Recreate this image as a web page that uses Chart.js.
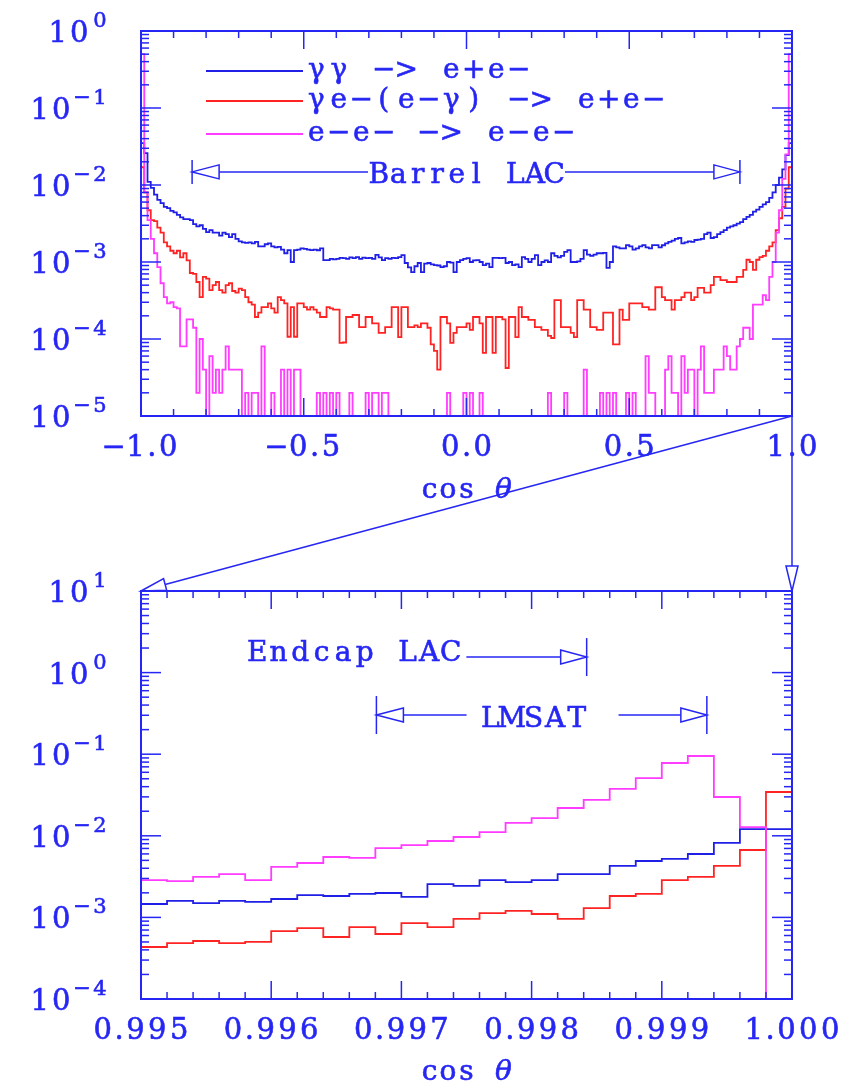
<!DOCTYPE html>
<html>
<head>
<meta charset="utf-8">
<title>cos θ distributions</title>
<script src="https://cdn.jsdelivr.net/npm/chart.js"></script>
<style>
  html, body { margin: 0; background: #fff; }
  #wrap { position: relative; width: 849px; height: 1084px; }
  #wrap canvas { position: absolute; left: 0; top: 0; }
</style>
</head>
<body>
<div id="wrap">
  <canvas id="barrel" width="849" height="1084"></canvas>
  <canvas id="endcap" width="849" height="1084"></canvas>
</div>
<script>
// process names, same order in both panels
const labels = ['γγ −> e+e−', 'γe−(e−γ) −> e+e−', 'e−e− −> e−e−']
const colors = ['#1f1fe6', '#ff2424', '#ff3cff']

// upper panel: 200 bins of 0.01 in cos theta, one value per bin (0 = empty)
const barrelRange = [-1, 1]
const barrelGG = [
  3.5e-2, 2.6e-2, 1.1e-2, 9.2e-3, 7.5e-3, 6.4e-3, 5.8e-3, 5.2e-3, 5.0e-3, 4.6e-3,
  4.4e-3, 4.1e-3, 3.8e-3, 3.6e-3, 3.6e-3, 3.5e-3, 3.1e-3, 2.9e-3, 3.0e-3, 2.7e-3,
  2.45e-3, 2.6e-3, 2.4e-3, 2.4e-3, 2.2e-3, 2.4e-3, 2.3e-3, 2.1e-3, 2.3e-3, 2.0e-3,
  1.85e-3, 1.8e-3, 1.77e-3, 1.8e-3, 1.75e-3, 1.82e-3, 1.6e-3, 1.6e-3, 1.7e-3, 1.75e-3,
  1.6e-3, 1.55e-3, 1.57e-3, 1.45e-3, 1.3e-3, 1.43e-3, 1.0e-3, 1.43e-3, 1.45e-3, 1.5e-3,
  1.48e-3, 1.45e-3, 1.43e-3, 1.45e-3, 1.42e-3, 1.5e-3, 1.06e-3, 1.06e-3, 1.1e-3, 1.08e-3,
  1.1e-3, 1.13e-3, 1.12e-3, 1.1e-3, 1.15e-3, 1.12e-3, 1.16e-3, 1.1e-3, 1.14e-3, 1.12e-3,
  1.13e-3, 1.1e-3, 1.24e-3, 1.15e-3, 1.06e-3, 1.12e-3, 1.1e-3, 1.13e-3, 1.12e-3, 1.16e-3,
  1.23e-3, 9.7e-4, 8.5e-4, 7.4e-4, 8.8e-4, 9.7e-4, 7.4e-4, 9.5e-4, 9.7e-4, 9.3e-4,
  9.1e-4, 9.0e-4, 8.6e-4, 8.8e-4, 1.0e-3, 9.8e-4, 7.4e-4, 1.0e-3, 1.06e-3, 1.1e-3,
  1.12e-3, 1.0e-3, 1.05e-3, 1.06e-3, 1.0e-3, 9.1e-4, 9.5e-4, 8.6e-4, 1.13e-3, 1.13e-3,
  1.12e-3, 1.13e-3, 9.7e-4, 1.0e-3, 9.1e-4, 9.3e-4, 8.6e-4, 1.16e-3, 1.1e-3, 1.0e-3,
  1.1e-3, 1.23e-3, 9.1e-4, 1.0e-3, 1.05e-3, 1.0e-3, 1.3e-3, 1.2e-3, 1.15e-3, 1.2e-3,
  1.35e-3, 1.43e-3, 1.0e-3, 1.0e-3, 1.02e-3, 1.1e-3, 1.43e-3, 1.25e-3, 1.2e-3, 1.25e-3,
  1.3e-3, 1.3e-3, 1.31e-3, 8.4e-4, 1.0e-3, 1.6e-3, 1.55e-3, 1.5e-3, 1.5e-3, 1.66e-3,
  1.6e-3, 1.45e-3, 1.5e-3, 1.6e-3, 1.66e-3, 1.55e-3, 1.5e-3, 1.66e-3, 1.66e-3, 1.55e-3,
  1.65e-3, 1.75e-3, 1.82e-3, 1.9e-3, 2.0e-3, 2.05e-3, 1.75e-3, 1.8e-3, 1.85e-3, 1.82e-3,
  1.93e-3, 1.95e-3, 2.0e-3, 2.3e-3, 2.4e-3, 2.05e-3, 2.1e-3, 2.3e-3, 2.45e-3, 2.6e-3,
  2.8e-3, 2.9e-3, 3.0e-3, 3.15e-3, 3.3e-3, 3.6e-3, 3.85e-3, 4.1e-3, 4.5e-3, 4.8e-3,
  5.2e-3, 5.6e-3, 6.0e-3, 6.8e-3, 8.0e-3, 1.0e-2, 1.25e-2, 1.6e-2, 2.45e-2, 3.5e-2
]
const barrelGE = [
  1.7e-2, 8e-3, 4.7e-3, 3.5e-3, 3.4e-3, 2.8e-3, 2.4e-3, 1.8e-3, 1.6e-3, 1.4e-3,
  1.3e-3, 1.4e-3, 1.15e-3, 1.3e-3, 1.05e-3, 7.2e-4, 7e-4, 5.5e-4, 3.5e-4, 6.4e-4,
  6.1e-4, 4.3e-4, 5e-4, 5.5e-4, 4.3e-4, 4e-4, 5e-4, 5.3e-4, 4.2e-4, 4e-4,
  4.5e-4, 4.3e-4, 3.5e-4, 3e-4, 2.8e-4, 1.93e-4, 2.2e-4, 2.6e-4, 2.6e-4, 2.9e-4,
  2.5e-4, 2.2e-4, 3.5e-4, 3.2e-4, 2.9e-4, 1.07e-4, 2.6e-4, 1.07e-4, 2.9e-4, 2.9e-4,
  2.6e-4, 2.4e-4, 2.6e-4, 2.4e-4, 2.2e-4, 1.93e-4, 1.93e-4, 2.6e-4, 2.5e-4, 2.4e-4,
  2.4e-4, 8.9e-5, 9e-5, 1.93e-4, 1.93e-4, 2.05e-4, 2.05e-4, 1.43e-4, 1.43e-4, 1.93e-4,
  1.93e-4, 1.6e-4, 1.6e-4, 1.2e-4, 1.2e-4, 1.43e-4, 1.43e-4, 2.6e-4, 2.6e-4, 1.06e-4,
  2.6e-4, 2.6e-4, 1.43e-4, 1.43e-4, 1.5e-4, 1.43e-4, 1.6e-4, 1.6e-4, 1.4e-4, 8.5e-5,
  7e-5, 4e-5, 1.93e-4, 1.93e-4, 1.6e-4, 8.9e-5, 1.2e-4, 1.43e-4, 1.43e-4, 1.43e-4,
  1.6e-4, 1.31e-4, 1.93e-4, 1.93e-4, 1.6e-4, 6.6e-5, 1.93e-4, 1.93e-4, 6.6e-5, 1.93e-4,
  1.93e-4, 1.8e-4, 4.2e-5, 1.93e-4, 1.93e-4, 1.06e-4, 2.6e-4, 1.93e-4, 1.93e-4, 1.77e-4,
  1.77e-4, 1.43e-4, 1.43e-4, 1.31e-4, 1.31e-4, 1.1e-4, 1.03e-4, 3.2e-4, 3.2e-4, 1.43e-4,
  1.43e-4, 1.43e-4, 1.2e-4, 1.06e-4, 3.2e-4, 3.2e-4, 2.4e-4, 2.4e-4, 1.43e-4, 1.43e-4,
  1.31e-4, 1.31e-4, 2.2e-4, 2.2e-4, 2.2e-4, 8.5e-5, 8.5e-5, 2.4e-4, 1.77e-4, 1.77e-4,
  2.9e-4, 2.9e-4, 2.9e-4, 2.9e-4, 2.6e-4, 2.6e-4, 2.4e-4, 2.4e-4, 4.7e-4, 4.7e-4,
  3.5e-4, 3.2e-4, 3.2e-4, 2.4e-4, 3.2e-4, 3.2e-4, 3.5e-4, 4e-4, 4e-4, 3.2e-4,
  3.5e-4, 4.6e-4, 4.6e-4, 4e-4, 4e-4, 5e-4, 6.4e-4, 6.4e-4, 5.8e-4, 5.8e-4,
  5.5e-4, 5.5e-4, 5.5e-4, 6.4e-4, 6.4e-4, 7.9e-4, 1.07e-3, 1.0e-3, 7.9e-4, 1.07e-3,
  1.16e-3, 1.2e-3, 1.4e-3, 1.6e-3, 1.8e-3, 2.6e-3, 3.7e-3, 5.2e-3, 9e-3, 1.7e-2
]
const barrelEE = [
  0.5, 8e-3, 3.5e-3, 2e-3, 1.3e-3, 8.6e-4, 5.3e-4, 3.5e-4, 2.9e-4, 3e-4,
  2.6e-4, 2.5e-4, 8e-5, 8e-5, 1.8e-4, 1.8e-4, 1.4e-4, 2e-5, 1e-4, 4e-5,
  0, 6e-5, 2e-5, 4e-5, 2e-5, 4e-5, 8e-5, 4e-5, 4e-5, 4e-5,
  4e-5, 0, 2e-5, 0, 2e-5, 2e-5, 0, 8e-5, 0, 0,
  2e-5, 0, 0, 4e-5, 0, 4e-5, 0, 4e-5, 4e-5, 0,
  0, 0, 0, 0, 2e-5, 0, 2e-5, 0, 2e-5, 0,
  2e-5, 0, 0, 0, 2e-5, 0, 0, 0, 0, 2e-5,
  0, 2e-5, 2e-5, 0, 2e-5, 2e-5, 0, 0, 0, 0,
  0, 0, 0, 0, 0, 0, 0, 0, 0, 0,
  0, 0, 0, 0, 2e-5, 0, 0, 0, 0, 2e-5,
  0, 2e-5, 0, 0, 2e-5, 0, 0, 0, 0, 0,
  0, 0, 0, 0, 0, 0, 0, 0, 0, 0,
  0, 0, 0, 0, 0, 2e-5, 0, 0, 0, 0,
  2e-5, 0, 0, 0, 0, 0, 4e-5, 0, 0, 0,
  0, 2e-5, 0, 2e-5, 0, 2e-5, 0, 0, 0, 2e-5,
  0, 2e-5, 0, 0, 0, 6e-5, 2e-5, 2e-5, 0, 0,
  0, 4e-5, 6e-5, 2e-5, 2e-5, 0, 6e-5, 2e-5, 4e-5, 4e-5,
  0, 4e-5, 8e-5, 2e-5, 2e-5, 2e-5, 4e-5, 4e-5, 4e-5, 8e-5,
  6e-5, 4e-5, 4e-5, 8e-5, 1e-4, 1.4e-4, 1.4e-4, 1e-4, 2.8e-4, 2.8e-4,
  2.8e-4, 3.7e-4, 3.2e-4, 6.4e-4, 1e-3, 2.4e-3, 4.7e-3, 1.2e-2, 2.5e-2, 0.5
]

// lower panel: 25 bins of 0.0002 next to cos theta = 1
const endcapRange = [0.995, 1.0]
const endcapGG = [1.46e-3, 1.59e-3, 1.5e-3, 1.59e-3, 1.55e-3, 1.68e-3, 1.88e-3, 1.83e-3, 1.94e-3, 1.99e-3,
  1.78e-3, 2.56e-3, 2.43e-3, 2.87e-3, 2.71e-3, 2.87e-3, 3.4e-3, 3.4e-3, 4.27e-3, 4.91e-3,
  5.2e-3, 5.98e-3, 8.17e-3, 1.21e-2, 1.21e-2]
const endcapGE = [4.34e-4, 4.85e-4, 5.14e-4, 4.85e-4, 5.0e-4, 6.8e-4, 7.4e-4, 5.75e-4, 7.6e-4, 6.26e-4,
  8.5e-4, 7.6e-4, 9.6e-4, 1.13e-3, 1.2e-3, 1.1e-3, 9.6e-4, 1.3e-3, 1.83e-3, 1.94e-3,
  2.87e-3, 3.13e-3, 4.27e-3, 6.7e-3, 3.44e-2]
const endcapEE = [2.87e-3, 2.79e-3, 3.13e-3, 3.4e-3, 2.87e-3, 4.15e-3, 4.64e-3, 5.5e-3, 5.35e-3, 7.08e-3,
  7.7e-3, 8.63e-3, 9.67e-3, 1.11e-2, 1.44e-2, 1.65e-2, 2.19e-2, 2.75e-2, 3.75e-2, 5.1e-2,
  7.8e-2, 9.5e-2, 2.99e-2, 1.28e-2, 0]

// axes
const barrelXTicks = [-1, -0.5, 0, 0.5, 1]
const barrelXLabels = ['−1.0', '−0.5', '0.0', '0.5', '1.0']
const barrelDecades = [-5, 0]
const endcapXTicks = [0.995, 0.996, 0.997, 0.998, 0.999, 1.0]
const endcapXLabels = ['0.995', '0.996', '0.997', '0.998', '0.999', '1.000']
const endcapDecades = [-4, 1]

// detector acceptance markers (data coordinates)
const barrelMarks = [
  { text: 'Barrel LAC', from: -0.843, to: 0.84, y: 1.48e-2, at: 0, step: 19.5, gap: [1, 1], dy: 11, bar: 12 }
]
const endcapMarks = [
  { text: 'Endcap LAC', from: null, to: 0.998423, y: 1.55, at: 0.996635, step: 21.5, gap: [0, 5], dy: 4, bar: 19 },
  { text: 'LMSAT', from: 0.996808, to: 0.999346, y: 0.302, at: 0.998015, step: 21.6, gap: [13, 31], dy: 12, bar: 19 }
]

const ink = '#2626f4'
const serif = '"DejaVu Serif", "Liberation Serif", serif'

// plotter style text: fixed advance per character (half for the dot), slightly heavy strokes
function spaced (ctx, text, x, y, step, align) {
  const chars = Array.from(text)
  const adv = chars.map(c => (c === '.' ? step * 0.5 : step))
  const width = adv.reduce((s, v) => s + v, 0)
  let cx = x
  if (align === 'center') cx = x - width / 2
  if (align === 'right') cx = x - width
  ctx.textAlign = 'center'
  ctx.lineWidth = 0.6
  ctx.strokeStyle = ctx.fillStyle
  chars.forEach((c, i) => {
    ctx.fillText(c, cx + adv[i] / 2, y)
    ctx.strokeText(c, cx + adv[i] / 2, y)
    cx += adv[i]
  })
  return width
}

function line (ctx, x1, y1, x2, y2) {
  ctx.beginPath()
  ctx.moveTo(x1, y1)
  ctx.lineTo(x2, y2)
  ctx.stroke()
}

// open triangle head, tip at (tx,ty) pointing along (dx,dy); returns the base centre
function openHead (ctx, tx, ty, dx, dy, len, half) {
  const bx = tx - dx * len
  const by = ty - dy * len
  ctx.beginPath()
  ctx.moveTo(tx, ty)
  ctx.lineTo(bx - dy * half, by + dx * half)
  ctx.lineTo(bx + dy * half, by - dx * half)
  ctx.closePath()
  ctx.stroke()
  return [bx, by]
}

// histogram outline: starts and ends on the lower edge
function histogram (values, range, yMin) {
  const w = (range[1] - range[0]) / values.length
  const pts = [{ x: range[0], y: yMin }]
  values.forEach((v, i) => pts.push({ x: range[0] + i * w, y: v > 0 ? v : yMin }))
  const last = values[values.length - 1]
  pts.push({ x: range[1], y: last > 0 ? last : yMin }, { x: range[1], y: yMin })
  return pts
}

function frame (o) {
  return {
    id: 'frame',
    afterDatasetsDraw (chart) {
      const { ctx, chartArea: a, scales: { x, y } } = chart
      ctx.save()
      ctx.strokeStyle = ink
      ctx.fillStyle = ink
      ctx.lineWidth = 1.5
      const n = Math.round((x.max - x.min) / o.minorStep)
      for (let i = 0; i <= n; i++) {
        const v = x.min + i * o.minorStep
        const major = o.ticks.some(t => Math.abs(t - v) < o.minorStep / 10)
        const len = major ? 18 : 7
        const px = x.getPixelForValue(v)
        line(ctx, px, a.bottom, px, a.bottom - len)
        line(ctx, px, a.top, px, a.top + len)
      }
      for (let e = o.decades[0]; e <= o.decades[1]; e++) {
        for (let m = 1; m <= 9; m++) {
          if (e === o.decades[1] && m > 1) break
          const py = y.getPixelForValue(m * Math.pow(10, e))
          const len = m === 1 ? 20 : 8
          line(ctx, a.left, py, a.left + len, py)
          line(ctx, a.right, py, a.right - len, py)
        }
      }
      ctx.lineWidth = 2
      ctx.strokeRect(a.left, a.top, a.right - a.left, a.bottom - a.top)

      ctx.textBaseline = 'alphabetic'
      ctx.font = `29px ${serif}`
      o.ticks.forEach((t, i) => spaced(ctx, o.labels[i], x.getPixelForValue(t), a.bottom + 40, 21.8, 'center'))

      const labelRight = a.left - 32
      for (let e = o.decades[0]; e <= o.decades[1]; e++) {
        const py = y.getPixelForValue(Math.pow(10, e))
        ctx.font = `21px ${serif}`
        const exp = e < 0 ? '−' + (-e) : String(e)
        const w = spaced(ctx, exp, labelRight, py - 4, 18, 'right')
        ctx.font = `29px ${serif}`
        spaced(ctx, '10', labelRight - w - 1, py + 11, 21.5, 'right')
      }

      // axis title
      const step = 18.5
      const tx = (a.left + a.right) / 2 - 2.5 * step
      const ty = a.bottom + o.titleDy
      ctx.font = `28px ${serif}`
      spaced(ctx, 'cos', tx, ty, step, 'left')
      ctx.font = `italic 28px ${serif}`
      ctx.fillText('θ', tx + 4.5 * step, ty)
      ctx.strokeText('θ', tx + 4.5 * step, ty)
      ctx.restore()
    }
  }
}

function marks (items) {
  return {
    id: 'marks',
    afterDatasetsDraw (chart) {
      const { ctx, scales: { x, y } } = chart
      ctx.save()
      ctx.fillStyle = ink
      ctx.textBaseline = 'alphabetic'
      ctx.font = `28px ${serif}`
      items.forEach(r => {
        const py = y.getPixelForValue(r.y)
        const cx = x.getPixelForValue(r.at)
        const w = spaced(ctx, r.text, cx, py + r.dy, r.step, 'center')
        ctx.strokeStyle = ink
        ctx.lineWidth = 1.5
        if (r.from !== null) {
          const px = x.getPixelForValue(r.from)
          line(ctx, px, py - r.bar, px, py + r.bar)
          const [bx] = openHead(ctx, px, py, -1, 0, 27, 7)
          line(ctx, bx, py, cx - w / 2 - r.gap[0], py)
        }
        if (r.to !== null) {
          const px = x.getPixelForValue(r.to)
          line(ctx, px, py - r.bar, px, py + r.bar)
          const [bx] = openHead(ctx, px, py, 1, 0, 26, 7)
          line(ctx, cx + w / 2 + r.gap[1], py, bx, py)
        }
      })
      ctx.restore()
    }
  }
}

const keys = {
  id: 'keys',
  afterDatasetsDraw (chart) {
    const { ctx, chartArea: a } = chart
    const rows = [40, 70, 103]
    ctx.save()
    ctx.font = `28px ${serif}`
    ctx.textBaseline = 'alphabetic'
    chart.data.datasets.forEach((ds, i) => {
      const ly = a.top + rows[i]
      ctx.strokeStyle = ds.borderColor
      ctx.lineWidth = 1.8
      line(ctx, a.left + 65, ly, a.left + 162, ly)
      ctx.fillStyle = ink
      spaced(ctx, ds.label, a.left + 164, ly + 7, 22.5, 'left')
    })
    ctx.restore()
  }
}

function datasets (series, range, yMin) {
  return series.map((values, i) => ({
    label: labels[i],
    data: histogram(values, range, yMin),
    borderColor: colors[i],
    borderWidth: 1.8,
    stepped: 'before',
    pointRadius: 0,
    fill: false,
    order: 3 - i
  }))
}

function makeChart (id, range, series, decades, padding, plugins) {
  const yMin = Math.pow(10, decades[0])
  return new Chart(document.getElementById(id), {
    type: 'line',
    data: { datasets: datasets(series, range, yMin) },
    options: {
      responsive: false,
      animation: false,
      events: [],
      layout: { padding },
      scales: {
        x: { type: 'linear', min: range[0], max: range[1], display: false },
        y: { type: 'logarithmic', min: yMin, max: Math.pow(10, decades[1]), display: false }
      },
      plugins: { legend: { display: false }, tooltip: { enabled: false } }
    },
    plugins
  })
}

const barrelChart = makeChart('barrel', barrelRange, [barrelGG, barrelGE, barrelEE], barrelDecades,
  { left: 141, right: 57, top: 31, bottom: 668 },
  [frame({ ticks: barrelXTicks, labels: barrelXLabels, minorStep: 0.1, decades: barrelDecades, titleDy: 82 }),
    marks(barrelMarks), keys])

// lines joining the corner of the upper panel to the zoomed lower panel
const zoomLink = {
  id: 'zoomLink',
  afterDraw (chart) {
    const { ctx, chartArea: a } = chart
    const t = barrelChart.chartArea
    ctx.save()
    ctx.strokeStyle = ink
    ctx.lineWidth = 1.5
    ;[[a.left, a.top], [a.right, a.top]].forEach(([ex, ey]) => {
      const dx = ex - t.right
      const dy = ey - t.bottom
      const len = Math.hypot(dx, dy)
      const [bx, by] = openHead(ctx, ex, ey, dx / len, dy / len, 25, 6)
      line(ctx, t.right, t.bottom, bx, by)
    })
    ctx.restore()
  }
}

makeChart('endcap', endcapRange, [endcapGG, endcapGE, endcapEE], endcapDecades,
  { left: 141, right: 57, top: 591, bottom: 85 },
  [frame({ ticks: endcapXTicks, labels: endcapXLabels, minorStep: 0.0002, decades: endcapDecades, titleDy: 81 }),
    marks(endcapMarks), zoomLink])
</script>
</body>
</html>
